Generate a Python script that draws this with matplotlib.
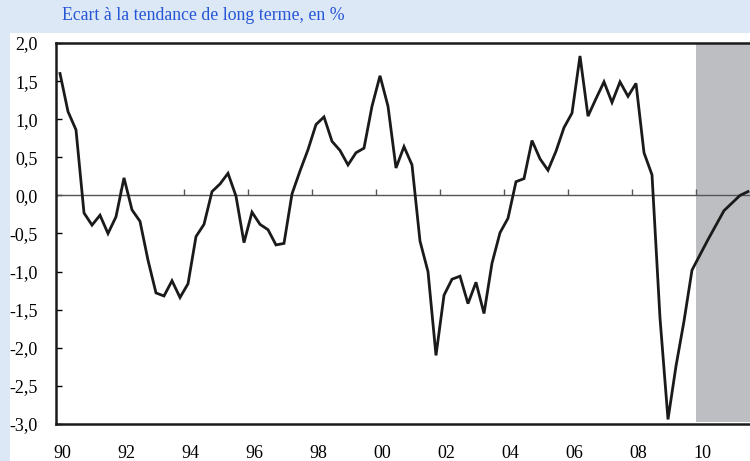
import matplotlib
matplotlib.use("Agg")
import matplotlib.pyplot as plt
from matplotlib.patches import Rectangle
import numpy as np

# quarterly deviation from long-term trend, 1990Q1 onwards
start_year = 1990.125
values = [
    1.60, 1.10, 0.86, -0.23, -0.39, -0.26, -0.50, -0.28,
    0.23, -0.19, -0.34, -0.85, -1.28, -1.32, -1.12, -1.34,
    -1.16, -0.54, -0.38, 0.05, 0.15, 0.29, -0.01, -0.62,
    -0.22, -0.38, -0.45, -0.65, -0.63, 0.02, 0.32, 0.60,
    0.93, 1.03, 0.71, 0.59, 0.40, 0.56, 0.62, 1.17,
    1.57, 1.17, 0.36, 0.64, 0.40, -0.60, -1.00, -2.10,
    -1.31, -1.10, -1.06, -1.42, -1.14, -1.55, -0.89, -0.49,
    -0.30, 0.18, 0.22, 0.72, 0.48, 0.33, 0.58, 0.89,
    1.08, 1.83, 1.04, 1.27, 1.49, 1.22, 1.49, 1.30,
    1.47, 0.56, 0.27, -1.61, -2.94, -2.24, -1.65, -0.98,
    -0.78, -0.58, -0.39, -0.20, -0.10, 0.00, 0.05,
]
tick_years = [1990, 1992, 1994, 1996, 1998, 2000, 2002, 2004, 2006, 2008, 2010]
tick_labels = ["90", "92", "94", "96", "98", "00", "02", "04", "06", "08", "10"]
y_ticks = [2.0, 1.5, 1.0, 0.5, 0.0, -0.5, -1.0, -1.5, -2.0, -2.5, -3.0]
forecast_start = 2010
title = "Ecart à la tendance de long terme, en %"

years = start_year + 0.25 * np.arange(len(values))

band = "#dde8f7"
fig = plt.figure(figsize=(7.5, 4.61), dpi=100, facecolor=band)
fig.patches.append(Rectangle((10 / 750, 0), 1, 1 - 33 / 461,
                             transform=fig.transFigure, facecolor="white",
                             edgecolor="none", zorder=-5))
fig.text(62 / 750, 1 - 16 / 461, title, color="#2556d6", fontsize=12.8,
         family="Liberation Serif", va="center", ha="left")

ax = fig.add_axes([56 / 750, 1 - 424 / 461, 1 - 56 / 750, (424 - 43) / 461])
ax.set_zorder(2)
xmax = 1990 + 694 / 32
ax.set_xlim(1990, xmax)
ax.set_ylim(-3.0, 2.0)

ax.fill_between([forecast_start, xmax], -2.97, 2.0, color="#bdbec2",
                linewidth=0, zorder=1)
ax.axhline(0, color="#555555", linewidth=1.0, zorder=2)
ax.vlines(tick_years[1:], 0, 0.09, color="#555555", linewidth=1.0, zorder=2)
ax.plot(years, values, color="#1a1a1a", linewidth=2.0, zorder=3,
        solid_joinstyle="miter")

for side in ["left", "top", "bottom"]:
    ax.spines[side].set_linewidth(1.8)
    ax.spines[side].set_color("#1a1a1a")
ax.spines["right"].set_visible(False)

ax.set_yticks(y_ticks)
ax.set_yticklabels([f"{v:.1f}".replace(".", ",") for v in y_ticks],
                   family="Liberation Serif", fontsize=13)
ax.tick_params(axis="y", direction="in", length=4, width=1, pad=13)

ax.set_xticks([y + 0.19 for y in tick_years])
ax.set_xticklabels(tick_labels, family="Liberation Serif", fontsize=13)
ax.tick_params(axis="x", length=0, pad=15)

fig.savefig("out.png", dpi=100, facecolor=band)
